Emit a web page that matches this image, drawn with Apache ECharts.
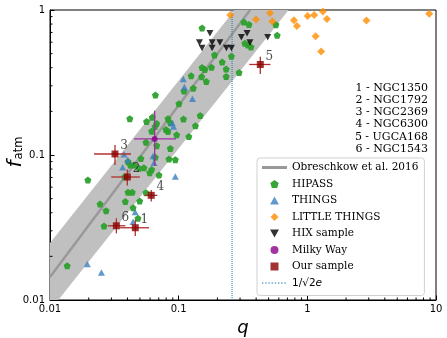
<!DOCTYPE html>
<html><head><meta charset="utf-8">
<script src="https://cdn.jsdelivr.net/npm/echarts@6/dist/echarts.min.js"></script>
<style>html,body{margin:0;padding:0;background:#fff}#c{width:447px;height:338px}</style>
</head><body><div id="c"></div>
<script>
// ---------------- data ----------------
const hipassQ = [0.152,0.321,0.352,0.570,0.583,0.327,0.346,0.365,0.190,0.257,0.218,0.152,0.160,0.180,0.234,0.295,0.125,0.151,0.234,0.164,0.130,0.110,0.066,0.1005,0.147,0.109,0.0417,0.0624,0.0563,0.0675,0.0655,0.0826,0.0861,0.0796,0.0826,0.0965,0.135,0.120,0.0617,0.0557,0.0675,0.0861,0.0841,0.0942,0.0509,0.0537,0.0617,0.0596,0.0703,0.0658,0.0404,0.0421,0.045,0.0492,0.0197,0.0245,0.0273,0.0263,0.0136,0.0385,0.0404,0.0436,0.0498,0.0557,0.0442,0.0483,0.038];
const hipassF = [0.751,0.826,0.794,0.792,0.670,0.589,0.574,0.556,0.490,0.480,0.438,0.401,0.389,0.403,0.392,0.370,0.352,0.347,0.348,0.321,0.289,0.276,0.259,0.226,0.187,0.177,0.178,0.182,0.170,0.165,0.157,0.178,0.167,0.150,0.145,0.138,0.159,0.134,0.146,0.1225,0.116,0.111,0.0938,0.0929,0.0946,0.0817,0.0794,0.0755,0.0728,0.0964,0.090,0.0853,0.0853,0.081,0.0672,0.0459,0.0413,0.0324,0.0172,0.0477,0.0553,0.0553,0.0482,0.0550,0.0433,0.0366,0.0708];
const thingsQ = [0.1086,0.1107,0.128,0.0891,0.0911,0.0376,0.0402,0.0367,0.0631,0.0643,0.0942,0.0459,0.0442,0.0195,0.0251];
const thingsF = [0.334,0.294,0.244,0.166,0.157,0.101,0.0924,0.0822,0.0984,0.0885,0.0711,0.0405,0.0347,0.0177,0.0155];
const littleQ = [0.252,0.399,0.512,0.535,0.787,0.830,1.005,1.13,1.32,1.42,1.16,1.28,2.88,8.85];
const littleF = [0.924,0.860,0.953,0.833,0.849,0.776,0.909,0.924,0.976,0.867,0.659,0.518,0.847,0.942];
const hixQ = [0.175,0.145,0.152,0.182,0.182,0.209,0.235,0.257,0.307,0.340,0.358,0.492];
const hixF = [0.692,0.598,0.546,0.598,0.546,0.598,0.546,0.546,0.648,0.691,0.597,0.648];
const milkyWay = {q:0.0651, f:0.129, qLo:0.045, qHi:0.0953, fLo:0.0839, fHi:0.2017};
const oursLabel = ['1','2','3','4','5','6'];
const oursQ   = [0.0460,0.0399,0.0320,0.0612,0.431,0.0328];
const oursF   = [0.0315,0.0705,0.1016,0.0527,0.421,0.0325];
const oursQLo = [0.0348,0.0299,0.0220,0.0545,0.354,0.0282];
const oursQHi = [0.0588,0.0499,0.0426,0.0683,0.517,0.0385];
const oursFLo = [0.0276,0.0616,0.0853,0.0477,0.362,0.0288];
const oursFHi = [0.0357,0.0793,0.117,0.0574,0.476,0.0366];
const galaxyNames = ['NGC1350','NGC1792','NGC2369','NGC6300','UGCA168','NGC1543'];
// Obreschkow et al. 2016 relation (line and its band)
const relLineQ = [0.01, 0.359];
const relLineF = [0.0144, 1];
const bandQ = [0.01, 0.272, 0.716, 0.0116, 0.01];
const bandF = [0.0247, 1, 1, 0.01, 0.01];
const vlineQ = 0.26; // 1/(sqrt(2) e)
const xTicks = [0.01, 0.1, 1, 10];
const yTicks = [0.01, 0.1, 1];
const xMinor = [0.02,0.03,0.04,0.05,0.06,0.07,0.08,0.09,0.2,0.3,0.4,0.5,0.6,0.7,0.8,0.9,2,3,4,5,6,7,8,9];
const yMinor = [0.02,0.03,0.04,0.05,0.06,0.07,0.08,0.09,0.2,0.3,0.4,0.5,0.6,0.7,0.8,0.9];
const legendNames = ['Obreschkow et al. 2016','HIPASS','THINGS','LITTLE THINGS','HIX sample','Milky Way','Our sample','1/√2e'];

// ---------------- chart ----------------
const zip = (a,b) => a.map((v,i)=>[v,b[i]]);
const pentagon = 'path://M50,0 L97.6,34.5 L79.4,90.5 L20.6,90.5 L2.4,34.5 Z';
const upTri = 'path://M5,0 L10,9 L0,9 Z';
const downTri = 'path://M0,0 L10,0 L5,9 Z';
const diamond = 'path://M5,0 L10,5 L5,10 L0,5 Z';
const square = 'path://M0,0 L10,0 L10,10 L0,10 Z';
const lineIcon = 'path://M0,0 L25,0 L25,3 L0,3 Z';
const dotIcon = 'path://' + [0,3.2,6.4,9.6,12.8,16,19.2,22.4].map(x=>'M'+x+',0 h1.4 v1.2 h-1.4 Z').join(' ') + ' M25,0 h0.01 v1.2 h-0.01 Z';
const chart = echarts.init(document.getElementById('c'), null, {renderer:'canvas'});

function errRender(color){
  return function(params, api){
    const x=api.value(0), y=api.value(1);
    const a=api.coord([api.value(2),y]), b=api.coord([api.value(3),y]);
    const d=api.coord([x,api.value(4)]), e=api.coord([x,api.value(5)]);
    return {type:'group', silent:true, children:[
      {type:'line', shape:{x1:a[0],y1:a[1],x2:b[0],y2:b[1]}, style:{stroke:color,lineWidth:1.3}},
      {type:'line', shape:{x1:d[0],y1:d[1],x2:e[0],y2:e[1]}, style:{stroke:color,lineWidth:1.3}}
    ]};
  };
}
const axisCommon = {
  type:'log', logBase:10, interval:1,
  axisLine:{show:true, lineStyle:{color:'#000', width:1}},
  axisTick:{show:true, inside:true, length:4.5, lineStyle:{color:'#000', width:1}},
  axisLabel:{color:'#000', fontSize:10, fontFamily:'DejaVu Sans', showMinLabel:true, showMaxLabel:true, hideOverlap:false},
  splitLine:{show:false}, minorTick:{show:false}
};
const legendData = legendNames.map((n,i)=> i===0 ? {name:n, icon:lineIcon} : (i===7 ? {name:n, icon:dotIcon} : {name:n}));
const option = {
  animation:false,
  grid:{left:50, right:11, top:10, bottom:38, show:true, borderColor:'#000', borderWidth:1, outerBoundsMode:'none', containLabel:false},
  xAxis:Object.assign({}, axisCommon, {min:xTicks[0], max:xTicks[xTicks.length-1],
    axisLabel:Object.assign({}, axisCommon.axisLabel, {margin:4}),
    name:'q', nameLocation:'middle', nameGap:16,
    nameTextStyle:{fontStyle:'italic', fontSize:18, fontFamily:'DejaVu Sans', color:'#000'}}),
  yAxis:Object.assign({}, axisCommon, {min:yTicks[0], max:yTicks[yTicks.length-1],
    axisLabel:Object.assign({}, axisCommon.axisLabel, {margin:5})}),
  legend:{
    left:257, top:158, orient:'vertical', itemWidth:25, itemHeight:8, itemGap:3.5,
    padding:[3,6,6,5], borderColor:'#d0d0d0', borderWidth:1, borderRadius:3,
    backgroundColor:'rgba(255,255,255,0.8)',
    textStyle:{fontFamily:'DejaVu Serif', fontSize:10.5, color:'#000', lineHeight:13,
      rich:{m:{fontFamily:'DejaVu Sans', fontSize:10.5, color:'#000'}, i:{fontFamily:'DejaVu Sans', fontStyle:'italic', fontSize:10.5, color:'#000'}}},
    data:legendData,
    formatter: n => n===legendNames[7] ? '{m|1/√2}{i|e}' : n
  },
  graphic:[
    {type:'text', x:15.5, y:164, rotation:Math.PI/2, style:{text:'f', fontSize:20, fontStyle:'italic', fontFamily:'DejaVu Sans', fill:'#000', align:'center', verticalAlign:'middle'}},
    {type:'text', x:19, y:148, rotation:Math.PI/2, style:{text:'atm', fontSize:11.5, fontFamily:'DejaVu Sans', fill:'#000', align:'center', verticalAlign:'middle'}}
  ].concat(galaxyNames.map((g,i)=>({type:'text', x:428, y:87.7+i*12.3, style:{text:(i+1)+' - '+g, fontSize:11, fontFamily:'DejaVu Serif', fill:'#000', align:'right', verticalAlign:'middle'}}))),
  series:[
    {type:'custom', name:'band', silent:true, z:1,
      data:[[bandQ[0], bandF[0]]],
      renderItem:(p,api)=>({type:'polygon', shape:{points:bandQ.map((q,i)=>api.coord([q,bandF[i]]))}, style:{fill:'#c0c0c0'}})},
    {type:'line', name:legendNames[0], z:2, data:zip(relLineQ, relLineF), symbol:'none',
      lineStyle:{color:'#999999', width:2.5}, itemStyle:{color:'#999999'}},
    {type:'line', name:legendNames[7], z:2, data:[[vlineQ, yTicks[0]],[vlineQ, yTicks[2]]], symbol:'none',
      lineStyle:{color:'#1f77b4', width:1, type:'dotted'}, itemStyle:{color:'#1f77b4'}},
    {type:'scatter', name:legendNames[1], z:3, data:zip(hipassQ,hipassF), symbol:pentagon, symbolSize:7,
      itemStyle:{color:'#2ca02c', opacity:0.95}},
    {type:'scatter', name:legendNames[2], z:3, data:zip(thingsQ,thingsF), symbol:upTri, symbolSize:[7,6.5],
      itemStyle:{color:'#3a7fc0'}},
    {type:'scatter', name:legendNames[3], z:3, data:zip(littleQ,littleF), symbol:diamond, symbolSize:8,
      itemStyle:{color:'#ff8c00'}},
    {type:'scatter', name:legendNames[4], z:3, data:zip(hixQ,hixF), symbol:downTri, symbolSize:[7,6.5],
      itemStyle:{color:'#000'}},
    {type:'custom', name:'mwerr', z:4, data:[[milkyWay.q, milkyWay.f, milkyWay.qLo, milkyWay.qHi, milkyWay.fLo, milkyWay.fHi]],
      encode:{x:0,y:1}, renderItem:errRender('#a030a0')},
    {type:'scatter', name:legendNames[5], z:5, data:[[milkyWay.q, milkyWay.f]], symbol:'circle', symbolSize:6,
      itemStyle:{color:'#8b008b'}},
    {type:'custom', name:'oerr', z:4, data:oursQ.map((q,i)=>[q,oursF[i],oursQLo[i],oursQHi[i],oursFLo[i],oursFHi[i]]),
      encode:{x:0,y:1}, renderItem:errRender('#b03030')},
    {type:'scatter', name:legendNames[6], z:5, data:oursQ.map((q,i)=>({name:oursLabel[i], value:[q,oursF[i]]})),
      symbol:square, symbolSize:7, itemStyle:{color:'#8b0000'},
      label:{show:true, position:'inside', offset:[9,-8], formatter:'{b}', fontFamily:'DejaVu Serif', fontSize:12, color:'#222'}},
    {type:'custom', name:'xminor', silent:true, z:6, data:xMinor.map(v=>[v, yTicks[0]]), encode:{x:0,y:1},
      renderItem:(p,api)=>{const c=api.coord([api.value(0),api.value(1)]); return {type:'line', shape:{x1:c[0],y1:c[1],x2:c[0],y2:c[1]-2.5}, style:{stroke:'#000',lineWidth:1}};}},
    {type:'custom', name:'yminor', silent:true, z:6, data:yMinor.map(v=>[xTicks[0], v]), encode:{x:0,y:1},
      renderItem:(p,api)=>{const c=api.coord([api.value(0),api.value(1)]); return {type:'line', shape:{x1:c[0],y1:c[1],x2:c[0]+2.5,y2:c[1]}, style:{stroke:'#000',lineWidth:1}};}}
  ]
};
chart.setOption(option);
</script></body></html>
